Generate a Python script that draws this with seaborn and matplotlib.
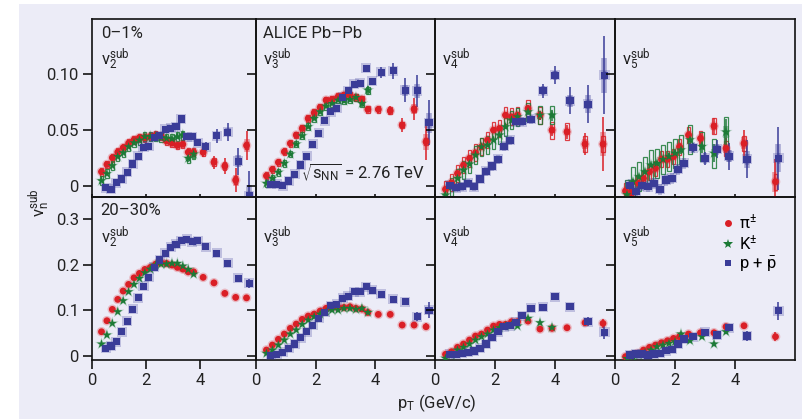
import numpy as np
import pandas as pd
import matplotlib
matplotlib.use("Agg")
import matplotlib.pyplot as plt
from matplotlib.patches import Rectangle
from matplotlib.lines import Line2D
import seaborn as sns

plt.rcParams['font.family'] = ['Roboto', 'DejaVu Sans']
plt.rcParams['mathtext.default'] = 'regular'

# ---------------- pT grids (GeV/c) ----------------
pt_pi_v23 = [0.35, 0.55, 0.75, 0.95, 1.15, 1.35, 1.55, 1.75, 1.95, 2.15, 2.35, 2.55, 2.75,
             2.95, 3.15, 3.35, 3.55, 3.75, 4.1, 4.5, 4.9, 5.3, 5.7]
pt_k_v23 = [0.35, 0.55, 0.75, 0.95, 1.15, 1.35, 1.55, 1.75, 1.95, 2.15, 2.35, 2.55, 2.75,
            2.95, 3.15, 3.35, 3.55, 3.75]
pt_p_v23 = [0.5, 0.7, 0.9, 1.1, 1.3, 1.5, 1.7, 1.9, 2.1, 2.3, 2.5, 2.7, 2.9, 3.1, 3.3, 3.5,
            3.7, 3.9, 4.2, 4.6, 5.0, 5.4, 5.8]
pt_pi_v4 = [0.35, 0.55, 0.75, 0.95, 1.15, 1.35, 1.55, 1.75, 1.95, 2.15, 2.35, 2.55, 2.75,
            3.1, 3.5, 3.9, 4.4, 5.0, 5.6]
pt_k_v4 = [0.35, 0.55, 0.75, 0.95, 1.15, 1.35, 1.55, 1.75, 1.95, 2.15, 2.35, 2.55, 2.75,
           3.1, 3.5, 3.9]
pt_p_v4 = [0.5, 0.7, 0.9, 1.1, 1.3, 1.5, 1.7, 1.9, 2.1, 2.3, 2.5, 2.7, 2.9, 3.2, 3.6, 4.0,
           4.5, 5.1, 5.65]
pt_pi_v5 = [0.35, 0.55, 0.75, 0.95, 1.15, 1.35, 1.55, 1.75, 1.95, 2.15, 2.45, 2.85, 3.3,
            3.7, 4.3, 5.35]
pt_k_v5 = [0.4, 0.6, 0.8, 1.0, 1.2, 1.4, 1.6, 1.8, 2.0, 2.2, 2.5, 2.9, 3.3, 3.7]
pt_p_v5 = [0.5, 0.7, 0.9, 1.1, 1.3, 1.5, 1.7, 1.9, 2.1, 2.3, 2.6, 3.0, 3.4, 3.8, 4.4, 5.45]

# ---------------- 0-1% centrality ----------------
pi_v2_c0 = [0.0125, 0.019, 0.025, 0.030, 0.034, 0.038, 0.041, 0.043, 0.043, 0.044, 0.045, 0.044,
            0.040, 0.038, 0.036, 0.037, 0.030, 0.030, 0.0298, 0.021, 0.0176, 0.005, 0.036]
pi_v2_c0_err = [0.0006, 0.0006, 0.0006, 0.0006, 0.0006, 0.0006, 0.0007, 0.0007, 0.0008, 0.0008,
                0.0009, 0.001, 0.0011, 0.0012, 0.0014, 0.0016, 0.002, 0.0024, 0.004, 0.006,
                0.007, 0.011, 0.013]
k_v2_c0 = [0.0045, 0.0107, 0.0179, 0.026, 0.0295, 0.0348, 0.0384, 0.0408, 0.0438, 0.044, 0.044,
           0.043, 0.0423, 0.042, 0.0438, 0.0453, 0.0245, 0.0283]
k_v2_c0_err = [0.0008, 0.0008, 0.0008, 0.0008, 0.0009, 0.0009, 0.001, 0.001, 0.0011, 0.0012,
               0.0013, 0.0014, 0.0016, 0.0018, 0.002, 0.0023, 0.003, 0.004]
p_v2_c0 = [-0.0018, -0.0032, 0.0027, 0.006, 0.012, 0.0194, 0.0265, 0.0343, 0.0354, 0.0432,
           0.0446, 0.0506, 0.0512, 0.0527, 0.0596, 0.0438, 0.0438, 0.0384, 0.0348, 0.0446,
           0.0477, 0.022, -0.0092]
p_v2_c0_err = [0.0008, 0.0008, 0.0008, 0.0008, 0.0009, 0.0009, 0.001, 0.001, 0.0011, 0.0012,
               0.0013, 0.0014, 0.0016, 0.0018, 0.002, 0.0022, 0.0025, 0.003, 0.004, 0.006,
               0.008, 0.012, 0.022]

pi_v3_c0 = [0.0089, 0.0146, 0.0209, 0.0304, 0.0378, 0.0453, 0.0512, 0.0601, 0.0652, 0.070,
            0.0765, 0.0771, 0.0795, 0.081, 0.081, 0.0789, 0.0774, 0.0682, 0.0682, 0.067,
            0.0542, 0.0685, 0.0393]
pi_v3_c0_err = [0.0006, 0.0006, 0.0006, 0.0006, 0.0006, 0.0006, 0.0007, 0.0007, 0.0008, 0.0008,
                0.0009, 0.001, 0.0011, 0.0012, 0.0014, 0.0016, 0.002, 0.0025, 0.003, 0.004,
                0.006, 0.010, 0.016]
k_v3_c0 = [0.0021, 0.0066, 0.012, 0.020, 0.0283, 0.0372, 0.0446, 0.0527, 0.0601, 0.066, 0.0711,
           0.0735, 0.0765, 0.0759, 0.0771, 0.0789, 0.0735, 0.0854]
k_v3_c0_err = [0.0008, 0.0008, 0.0008, 0.0008, 0.0009, 0.0009, 0.001, 0.001, 0.0011, 0.0012,
               0.0013, 0.0014, 0.0016, 0.0018, 0.002, 0.0023, 0.003, 0.004]
p_v3_c0 = [0.0012, 0.0015, 0.0, 0.0042, 0.0104, 0.0185, 0.0265, 0.0372, 0.0468, 0.058, 0.066,
           0.0691, 0.0789, 0.0848, 0.0908, 0.0914, 0.1048, 0.0935, 0.1012, 0.1027, 0.0854,
           0.0848, 0.0563]
p_v3_c0_err = [0.0008, 0.0008, 0.0008, 0.0008, 0.0009, 0.0009, 0.001, 0.001, 0.0011, 0.0012,
               0.0013, 0.0014, 0.0016, 0.0018, 0.002, 0.0022, 0.0025, 0.003, 0.005, 0.007,
               0.011, 0.014, 0.020]

pi_v4_c0 = [-0.0032, 0.0027, 0.011, 0.0185, 0.0245, 0.0295, 0.0348, 0.0408, 0.0497, 0.0512,
            0.0631, 0.0616, 0.0631, 0.0691, 0.0631, 0.0497, 0.0482, 0.0372, 0.0372]
pi_v4_c0_err = [0.001, 0.001, 0.001, 0.001, 0.001, 0.0012, 0.0012, 0.0013, 0.0014, 0.0015,
                0.0017, 0.0019, 0.0022, 0.003, 0.004, 0.005, 0.006, 0.010, 0.024]
k_v4_c0 = [-0.0083, -0.0009, 0.0066, 0.014, 0.0194, 0.0274, 0.0348, 0.0363, 0.0408, 0.0453,
           0.0527, 0.0587, 0.0616, 0.066, 0.0631, 0.0631]
k_v4_c0_err = [0.0012, 0.0012, 0.0012, 0.0012, 0.0013, 0.0013, 0.0014, 0.0015, 0.0016, 0.0018,
               0.002, 0.0022, 0.0025, 0.003, 0.004, 0.005]
p_v4_c0 = [0.0006, -0.0018, -0.0009, 0.0021, -0.0009, 0.006, 0.0131, 0.0176, 0.0236, 0.0354,
           0.0408, 0.0571, 0.0571, 0.0593, 0.0848, 0.0988, 0.0759, 0.073, 0.0988]
p_v4_c0_err = [0.0012, 0.0012, 0.0012, 0.0012, 0.0013, 0.0013, 0.0014, 0.0015, 0.0016, 0.0018,
               0.002, 0.0022, 0.0025, 0.003, 0.006, 0.008, 0.012, 0.017, 0.035]

pi_v5_c0 = [-0.0047, -0.0062, 0.0027, 0.0066, 0.0125, 0.0155, 0.0236, 0.0236, 0.026, 0.0348,
            0.0453, 0.0423, 0.0533, 0.0334, 0.0378, 0.0036]
pi_v5_c0_err = [0.0015, 0.0015, 0.0015, 0.0016, 0.0017, 0.0018, 0.002, 0.0022, 0.0025, 0.003,
                0.004, 0.005, 0.007, 0.009, 0.012, 0.020]
k_v5_c0 = [-0.008, 0.0036, 0.008, 0.0125, 0.0185, 0.020, 0.0236, 0.026, 0.029, 0.032, 0.041,
           0.035, 0.029, 0.048]
k_v5_c0_err = [0.002, 0.002, 0.002, 0.002, 0.0022, 0.0024, 0.0026, 0.003, 0.0033, 0.004, 0.005,
               0.006, 0.008, 0.012]
p_v5_c0 = [0.0006, -0.0054, 0.0006, -0.0009, 0.0021, -0.0032, 0.0051, 0.0066, 0.0146, 0.020,
           0.034, 0.0245, 0.0325, 0.0265, 0.0236, 0.0245]
p_v5_c0_err = [0.002, 0.002, 0.002, 0.002, 0.002, 0.0022, 0.0024, 0.0026, 0.003, 0.0033, 0.004,
               0.006, 0.008, 0.012, 0.017, 0.028]

# ---------------- 20-30% centrality ----------------
pi_v2_c1 = [0.0526, 0.0768, 0.1017, 0.1236, 0.142, 0.1565, 0.171, 0.1806, 0.1894, 0.1938,
            0.2011, 0.204, 0.2026, 0.1989, 0.1938, 0.19, 0.184, 0.184, 0.172, 0.16, 0.1368,
            0.128, 0.127]
pi_v2_c1_err = [0.001, 0.001, 0.001, 0.001, 0.001, 0.001, 0.001, 0.001, 0.001, 0.001, 0.001,
                0.001, 0.001, 0.0012, 0.0014, 0.0016, 0.002, 0.002, 0.003, 0.004, 0.005,
                0.005, 0.006]
k_v2_c1 = [0.0257, 0.0454, 0.071, 0.0965, 0.1206, 0.1404, 0.1565, 0.1697, 0.182, 0.19, 0.199,
           0.201, 0.201, 0.2026, 0.2026, 0.1967, 0.1894, 0.179]
k_v2_c1_err = [0.001, 0.001, 0.001, 0.001, 0.001, 0.001, 0.001, 0.001, 0.001, 0.001, 0.0012,
               0.0013, 0.0014, 0.0016, 0.0018, 0.002, 0.0025, 0.003]
p_v2_c1 = [0.0162, 0.0213, 0.0307, 0.0526, 0.076, 0.1017, 0.127, 0.1529, 0.172, 0.1938, 0.21,
           0.2245, 0.2376, 0.245, 0.2522, 0.2552, 0.25, 0.252, 0.239, 0.2245, 0.2026, 0.1697,
           0.1588]
p_v2_c1_err = [0.001, 0.001, 0.001, 0.001, 0.001, 0.001, 0.001, 0.001, 0.001, 0.001, 0.0012,
               0.0013, 0.0014, 0.0016, 0.0018, 0.002, 0.0022, 0.0025, 0.003, 0.004, 0.005,
               0.007, 0.010]

pi_v3_c1 = [0.0125, 0.0235, 0.036, 0.0476, 0.06, 0.0695, 0.0798, 0.087, 0.0914, 0.098, 0.104,
            0.106, 0.106, 0.106, 0.1075, 0.104, 0.1024, 0.095, 0.0907, 0.0907, 0.0673, 0.0673,
            0.0636]
pi_v3_c1_err = [0.001, 0.001, 0.001, 0.001, 0.001, 0.001, 0.001, 0.001, 0.001, 0.001, 0.001,
                0.001, 0.001, 0.0012, 0.0014, 0.0016, 0.002, 0.002, 0.003, 0.003, 0.004,
                0.006, 0.008]
k_v3_c1 = [0.0052, 0.0125, 0.0235, 0.0344, 0.0476, 0.0564, 0.0688, 0.0783, 0.0856, 0.0914,
           0.0965, 0.1002, 0.1002, 0.104, 0.104, 0.1017, 0.104, 0.095]
k_v3_c1_err = [0.001, 0.001, 0.001, 0.001, 0.001, 0.001, 0.001, 0.001, 0.001, 0.001, 0.0012,
               0.0013, 0.0014, 0.0016, 0.0018, 0.002, 0.0025, 0.003]
p_v3_c1 = [0.0, 0.003, 0.0074, 0.0162, 0.0257, 0.0395, 0.0526, 0.0673, 0.082, 0.095, 0.1097,
           0.1134, 0.1258, 0.1309, 0.1404, 0.1404, 0.1513, 0.144, 0.1353, 0.1243, 0.1184,
           0.0856, 0.1002]
p_v3_c1_err = [0.001, 0.001, 0.001, 0.001, 0.001, 0.001, 0.001, 0.001, 0.001, 0.001, 0.0012,
               0.0013, 0.0014, 0.0016, 0.0018, 0.002, 0.0022, 0.0025, 0.004, 0.006, 0.007,
               0.010, 0.018]

pi_v4_c1 = [0.003, 0.0088, 0.0184, 0.0257, 0.0344, 0.0432, 0.0476, 0.0564, 0.0651, 0.0688,
            0.0688, 0.0746, 0.0746, 0.076, 0.0585, 0.06, 0.0614, 0.0724, 0.071]
pi_v4_c1_err = [0.001, 0.001, 0.001, 0.001, 0.001, 0.001, 0.001, 0.001, 0.001, 0.0012, 0.0013,
                0.0014, 0.0016, 0.002, 0.0025, 0.003, 0.004, 0.006, 0.010]
k_v4_c1 = [-0.0057, 0.0015, 0.0125, 0.0184, 0.0257, 0.0344, 0.0417, 0.0476, 0.0564, 0.0614,
           0.0651, 0.0673, 0.0651, 0.082, 0.0724, 0.0622]
k_v4_c1_err = [0.001, 0.001, 0.001, 0.001, 0.001, 0.001, 0.001, 0.001, 0.0012, 0.0013, 0.0014,
               0.0016, 0.0018, 0.0025, 0.003, 0.004]
p_v4_c1 = [0.003, 0.003, 0.0052, 0.0074, 0.0103, 0.0162, 0.0257, 0.0403, 0.0526, 0.0636,
           0.0658, 0.0732, 0.0877, 0.104, 0.106, 0.1294, 0.1075, 0.0746, 0.0513]
p_v4_c1_err = [0.001, 0.001, 0.001, 0.001, 0.001, 0.001, 0.001, 0.001, 0.0012, 0.0013, 0.0014,
               0.0016, 0.0018, 0.0025, 0.003, 0.005, 0.006, 0.010, 0.014]

pi_v5_c1 = [-0.002, 0.0015, 0.005, 0.0125, 0.0184, 0.0235, 0.0285, 0.033, 0.038, 0.0417,
            0.0476, 0.0504, 0.0504, 0.0636, 0.0658, 0.0417]
pi_v5_c1_err = [0.001, 0.001, 0.001, 0.001, 0.001, 0.0012, 0.0013, 0.0014, 0.0016, 0.0018,
                0.002, 0.0025, 0.003, 0.005, 0.007, 0.010]
k_v5_c1 = [-0.006, -0.002, 0.0015, 0.0066, 0.0125, 0.0198, 0.0235, 0.0271, 0.0307, 0.0476,
           0.033, 0.0417, 0.0257, 0.0526]
k_v5_c1_err = [0.001, 0.001, 0.001, 0.001, 0.0012, 0.0013, 0.0014, 0.0016, 0.0018, 0.002,
               0.0025, 0.003, 0.004, 0.006]
p_v5_c1 = [0.0015, 0.0037, 0.0037, 0.0015, 0.0037, 0.0052, 0.011, 0.014, 0.0257, 0.0366,
           0.0417, 0.0513, 0.0454, 0.0614, 0.0432, 0.0987]
p_v5_c1_err = [0.001, 0.001, 0.001, 0.001, 0.001, 0.0012, 0.0013, 0.0014, 0.0016, 0.0018,
               0.002, 0.003, 0.004, 0.006, 0.010, 0.020]

# systematic uncertainties per harmonic (v2, v3, v4, v5)
sys_c0_pi = [0.0035, 0.003, 0.0075, 0.007]
sys_c0_k = [0.004, 0.003, 0.008, 0.013]
sys_c0_p = [0.002, 0.002, 0.004, 0.005]
sys_c1_pi = [0.003, 0.002, 0.003, 0.004]
sys_c1_k = [0.003, 0.002, 0.003, 0.004]
sys_c1_p = [0.003, 0.003, 0.003, 0.004]

centralities = ['0–1%', '20–30%']
harmonics = ['2', '3', '4', '5']
species_labels = ['π$^{\\pm}$', 'K$^{\\pm}$', 'p + $\\bar{\\mathregular{p}}$']

# ---------------- style ----------------
W, H = 812, 419
LAV = '#ECECF7'
C_PI = '#DA1F26'
C_K = '#1C7A36'
C_P = '#3A3C98'

pt_grids = {
    0: (pt_pi_v23, pt_k_v23, pt_p_v23),
    1: (pt_pi_v23, pt_k_v23, pt_p_v23),
    2: (pt_pi_v4, pt_k_v4, pt_p_v4),
    3: (pt_pi_v5, pt_k_v5, pt_p_v5),
}
vals = {
    (0, 0): [(pi_v2_c0, pi_v2_c0_err), (k_v2_c0, k_v2_c0_err), (p_v2_c0, p_v2_c0_err)],
    (0, 1): [(pi_v3_c0, pi_v3_c0_err), (k_v3_c0, k_v3_c0_err), (p_v3_c0, p_v3_c0_err)],
    (0, 2): [(pi_v4_c0, pi_v4_c0_err), (k_v4_c0, k_v4_c0_err), (p_v4_c0, p_v4_c0_err)],
    (0, 3): [(pi_v5_c0, pi_v5_c0_err), (k_v5_c0, k_v5_c0_err), (p_v5_c0, p_v5_c0_err)],
    (1, 0): [(pi_v2_c1, pi_v2_c1_err), (k_v2_c1, k_v2_c1_err), (p_v2_c1, p_v2_c1_err)],
    (1, 1): [(pi_v3_c1, pi_v3_c1_err), (k_v3_c1, k_v3_c1_err), (p_v3_c1, p_v3_c1_err)],
    (1, 2): [(pi_v4_c1, pi_v4_c1_err), (k_v4_c1, k_v4_c1_err), (p_v4_c1, p_v4_c1_err)],
    (1, 3): [(pi_v5_c1, pi_v5_c1_err), (k_v5_c1, k_v5_c1_err), (p_v5_c1, p_v5_c1_err)],
}
sys_rows = {0: (sys_c0_pi, sys_c0_k, sys_c0_p), 1: (sys_c1_pi, sys_c1_k, sys_c1_p)}

sp_color = [C_PI, C_K, C_P]
sp_marker = ['o', '*', 's']
sp_size = [24, 48, 26]

cols_px = [(92, 256, 6.05), (256, 435, 6.0), (435, 615, 6.0), (615, 795, 6.0)]
rows_px = [(19, 196.7, (-0.0098, 0.149), [0, 0.05, 0.10], ['0', '0.05', '0.10']),
           (196.7, 360, (-0.0094, 0.349), [0, 0.1, 0.2, 0.3], ['0', '0.1', '0.2', '0.3'])]

fig = plt.figure(figsize=(W / 100, H / 100), dpi=100)
fig.patch.set_facecolor('white')
fig.add_artist(Rectangle((19 / W, 0), (802 - 19) / W, (H - 4) / H, transform=fig.transFigure,
                         facecolor=LAV, edgecolor='none', zorder=-100))


def fx(x):
    return x / W


def fy(y):
    return 1 - y / H


for r, (y0, y1, ylim, yt, ytl) in enumerate(rows_px):
    for c, (x0, x1, xmax) in enumerate(cols_px):
        ax = fig.add_axes([fx(x0), fy(y1), (x1 - x0) / W, (y1 - y0) / H])
        ax.set_facecolor('none')
        bw = 0.12
        for s in range(3):
            pt = pt_grids[c][s]
            v, err = vals[(r, c)][s]
            sysv = sys_rows[r][s][c]
            col = sp_color[s]
            df = pd.DataFrame({'pt': pt, 'v': v})
            for x, y in zip(pt, v):
                if r == 0 and s < 2:
                    ax.add_patch(Rectangle((x - bw / 2, y - sysv), bw, 2 * sysv, fill=False,
                                           edgecolor=col, lw=0.9, alpha=0.85, zorder=2))
                else:
                    ax.add_patch(Rectangle((x - bw / 2, y - sysv), bw, 2 * sysv,
                                           facecolor=col, edgecolor='none', alpha=0.3, zorder=2))
            if r == 0:
                ax.errorbar(pt, v, yerr=[e * 0.45 for e in err], fmt='none', ecolor=col,
                            elinewidth=4, alpha=0.4, zorder=2.5)
            ax.errorbar(pt, v, yerr=err, fmt='none', ecolor=col, elinewidth=1.1, zorder=3)
            sns.scatterplot(data=df, x='pt', y='v', ax=ax, color=col, marker=sp_marker[s],
                            s=sp_size[s] * 2.0, alpha=0.25, edgecolor='none', zorder=3.5,
                            legend=False)
            sns.scatterplot(data=df, x='pt', y='v', ax=ax, color=col, marker=sp_marker[s],
                            s=sp_size[s], edgecolor='none', linewidth=0, zorder=4,
                            legend=False)
        ax.set_xlim(0, xmax)
        ax.set_ylim(*ylim)
        ax.set_xlabel('')
        ax.set_ylabel('')
        ax.set_xticks([0, 2, 4])
        ax.set_yticks(yt)
        ax.set_yticklabels(ytl)
        ax.tick_params(axis='y', direction='out', length=6.5, width=1.1, left=True, right=False,
                       labelleft=(c == 0), labelsize=12, pad=3)
        if r == 0:
            ax.tick_params(axis='x', direction='in', length=2.5, width=1.1, bottom=True,
                           labelbottom=False)
        else:
            ax.tick_params(axis='x', direction='out', length=6.5, width=1.1, bottom=True,
                           labelbottom=True, labelsize=12, pad=3)
        for sp in ax.spines.values():
            sp.set_linewidth(1.2)
            sp.set_color('#111111')
        for lab in ax.get_xticklabels() + ax.get_yticklabels():
            lab.set_color('#222222')
        # harmonic label
        ax.text(fx(x0 + 9) if c == 0 else fx(x0 + 7), fy(60 if r == 0 else 237.5),
                r'$\mathregular{v_{%s}^{sub}}$' % harmonics[c], transform=fig.transFigure,
                fontsize=12, ha='left', va='center', color='#222222')
        if c == 3 and r == 1:
            handles = [Line2D([], [], ls='none', marker=sp_marker[i], color=sp_color[i],
                              markersize=(5 if i != 1 else 7), markeredgewidth=0)
                       for i in range(3)]
            ax.legend(handles, species_labels, loc='upper left',
                      bbox_to_anchor=(fx(722), fy(213)), bbox_transform=fig.transFigure,
                      frameon=False, fontsize=12, handlelength=0.7, handletextpad=0.35,
                      labelspacing=0.15, borderpad=0, borderaxespad=0)

fig.text(fx(101), fy(34), centralities[0], fontsize=12, ha='left', va='center', color='#222222')
fig.text(fx(100), fy(210.7), centralities[1], fontsize=12, ha='left', va='center',
         color='#222222')
fig.text(fx(263), fy(33), 'ALICE Pb–Pb', fontsize=12, ha='left', va='center', color='#222222')
fig.text(fx(425), fy(172), r'$\sqrt{s_{NN}}$ = 2.76 TeV', fontsize=12, ha='right',
         va='center', color='#222222')
fig.text(fx(437), fy(403), r'$\mathregular{p_T}$ (GeV/c)', fontsize=12, ha='center',
         va='center', color='#222222')
fig.text(fx(40), fy(203), r'$\mathregular{v_n^{sub}}$', fontsize=12, ha='center', va='center',
         rotation=90, color='#222222')

fig.savefig('out.png', dpi=100, facecolor=fig.get_facecolor())
